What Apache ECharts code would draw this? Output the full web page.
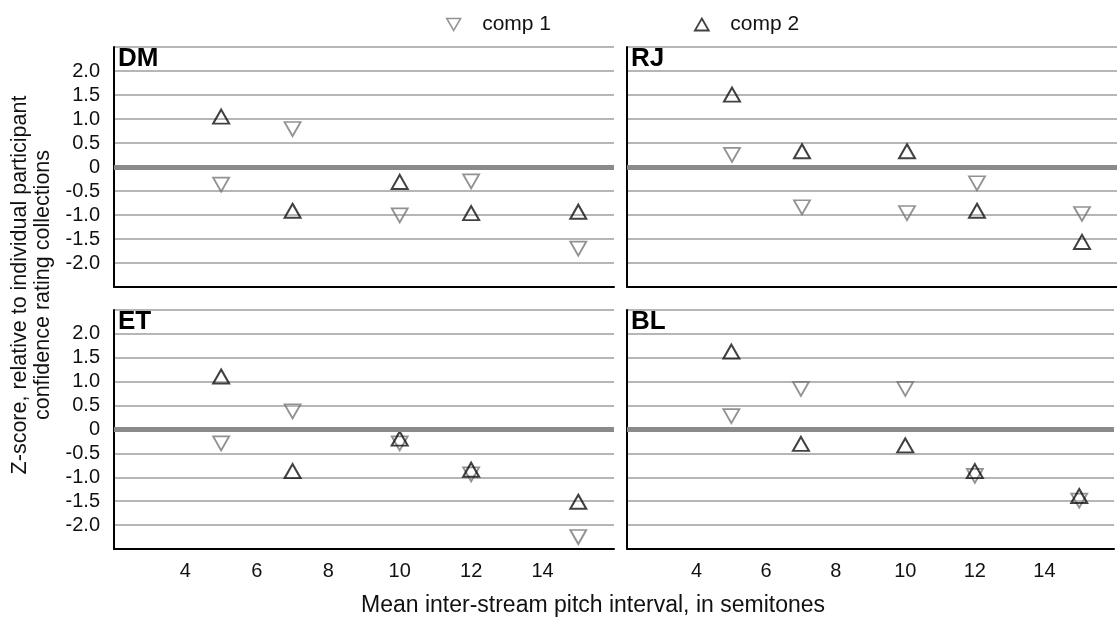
<!DOCTYPE html>
<html>
<head>
<meta charset="utf-8">
<script src="https://cdn.jsdelivr.net/npm/echarts@6/dist/echarts.min.js"></script>
<style>
  html, body { margin: 0; padding: 0; background: #fff; }
  #chart { width: 1117px; height: 620px; }
</style>
</head>
<body>
<div id="chart"></div>
<script>
  // pitch interval (semitones) for every panel
  const xValues = [5, 7, 10, 12, 15];
  const xTicks = [4, 6, 8, 10, 12, 14];
  const yTicks = [-2, -1.5, -1, -0.5, 0, 0.5, 1, 1.5, 2];
  const panelNames = ['DM', 'RJ', 'ET', 'BL'];

  // z-scores (triangle centroids)
  const dmComp1 = [-0.32, 0.84, -0.96, -0.25, -1.65];
  const dmComp2 = [1.00, -0.96, -0.36, -1.01, -0.98];
  const rjComp1 = [0.30, -0.79, -0.91, -0.29, -0.93];
  const rjComp2 = [1.46, 0.28, 0.28, -0.96, -1.61];
  const etComp1 = [-0.24, 0.43, -0.24, -0.89, -2.20];
  const etComp2 = [1.06, -0.92, -0.24, -0.89, -1.56];
  const blComp1 = [0.33, 0.90, 0.90, -0.92, -1.44];
  const blComp2 = [1.58, -0.35, -0.38, -0.92, -1.44];

  const comp1 = [dmComp1, rjComp1, etComp1, blComp1];
  const comp2 = [dmComp2, rjComp2, etComp2, blComp2];

  const FONT = '"Liberation Sans", Arial, Helvetica, sans-serif';
  const downTri = 'path://M0,0 L10,0 L5,8.66 Z';
  const upTri = 'path://M5,0 L10,8.66 L0,8.66 Z';
  const c1Color = '#777';
  const c2Color = '#111';
  const triW = 16, triH = 14;

  const myChart = echarts.init(document.getElementById('chart'));

  const grids = [
    { left: 114, top: 47, width: 500, height: 240 },
    { left: 627, top: 47, width: 504, height: 240 },
    { left: 114, top: 310, width: 500, height: 239 },
    { left: 627, top: 310, width: 504, height: 239 }
  ];

  const xAxes = grids.map((g, i) => ({
    type: 'value',
    gridIndex: i,
    min: 2,
    max: 16,
    interval: 2,
    axisLine: { onZero: false, lineStyle: { color: '#000', width: 2 } },
    axisTick: { show: false },
    splitLine: { show: false },
    axisLabel: {
      show: i >= 2,
      fontFamily: FONT,
      fontSize: 20,
      color: '#111',
      margin: 12,
      formatter: v => (xTicks.indexOf(v) >= 0 ? String(v) : '')
    }
  }));

  const yAxes = grids.map((g, i) => ({
    type: 'value',
    gridIndex: i,
    min: -2.5,
    max: 2.5,
    interval: 0.5,
    axisLine: { lineStyle: { color: '#000', width: 2 } },
    axisTick: { show: false },
    splitLine: { show: true, lineStyle: { color: '#9e9e9e', width: 1.5 } },
    axisLabel: {
      show: i % 2 === 0,
      fontFamily: FONT,
      fontSize: 20,
      color: '#111',
      margin: 14,
      formatter: v => {
        const hit = yTicks.find(t => Math.abs(t - v) < 1e-6);
        if (hit === undefined) return '';
        return Math.abs(hit) < 1e-6 ? '0' : hit.toFixed(1);
      }
    }
  }));

  // triangles are placed by their centroid so that coinciding points form a star
  const series = [];
  panelNames.forEach((p, i) => {
    series.push({
      name: 'comp 1',
      type: 'scatter',
      xAxisIndex: i,
      yAxisIndex: i,
      symbol: downTri,
      symbolSize: [triW, triH],
      symbolOffset: [0, triH / 6],
      itemStyle: { color: 'rgba(0,0,0,0)', borderColor: c1Color, borderWidth: 1.8 },
      data: xValues.map((x, k) => [x, comp1[i][k]]),
      markLine: {
        silent: true,
        symbol: 'none',
        label: { show: false },
        lineStyle: { color: '#8a8a8a', width: 5, type: 'solid' },
        data: [{ yAxis: 0 }]
      },
      z: 3
    });
    series.push({
      name: 'comp 2',
      type: 'scatter',
      xAxisIndex: i,
      yAxisIndex: i,
      symbol: upTri,
      symbolSize: [triW, triH],
      symbolOffset: [0, -triH / 6],
      itemStyle: { color: 'rgba(0,0,0,0)', borderColor: c2Color, borderWidth: 2 },
      data: xValues.map((x, k) => [x, comp2[i][k]]),
      z: 4
    });
  });

  const titles = panelNames.map((p, i) => ({
    text: p,
    left: grids[i].left + 4,
    top: grids[i].top - 1,
    padding: 0,
    textStyle: { fontFamily: FONT, fontSize: 26, fontWeight: 'bold', color: '#000' }
  }));

  myChart.setOption({
    animation: false,
    backgroundColor: '#fff',
    title: titles,
    legend: [
      {
        data: [{ name: 'comp 1', icon: downTri }],
        left: 446,
        top: 14,
        padding: 0,
        itemWidth: 15,
        itemHeight: 12,
        itemStyle: { color: 'rgba(0,0,0,0)', borderColor: c1Color, borderWidth: 1.5 },
        textStyle: { fontFamily: FONT, fontSize: 21, color: '#111', padding: [0, 0, 0, 16] }
      },
      {
        data: [{ name: 'comp 2', icon: upTri }],
        left: 694,
        top: 14,
        padding: 0,
        itemWidth: 15,
        itemHeight: 12,
        itemStyle: { color: 'rgba(0,0,0,0)', borderColor: c2Color, borderWidth: 1.8 },
        textStyle: { fontFamily: FONT, fontSize: 21, color: '#111', padding: [0, 0, 0, 16] }
      }
    ],
    grid: grids,
    xAxis: xAxes,
    yAxis: yAxes,
    series: series,
    graphic: [
      {
        type: 'text',
        x: 593,
        y: 606,
        style: {
          text: 'Mean inter-stream pitch interval, in semitones',
          font: '23px ' + FONT,
          fill: '#111',
          textAlign: 'center',
          textVerticalAlign: 'middle',
          align: 'center',
          verticalAlign: 'middle'
        }
      },
      {
        type: 'text',
        x: 32,
        y: 285,
        rotation: Math.PI / 2,
        style: {
          text: 'Z-score, relative to individual participant\nconfidence rating collections',
          font: '21.5px ' + FONT,
          lineHeight: 23,
          fill: '#111',
          textAlign: 'center',
          textVerticalAlign: 'middle',
          align: 'center',
          verticalAlign: 'middle'
        }
      }
    ]
  });
</script>
</body>
</html>
